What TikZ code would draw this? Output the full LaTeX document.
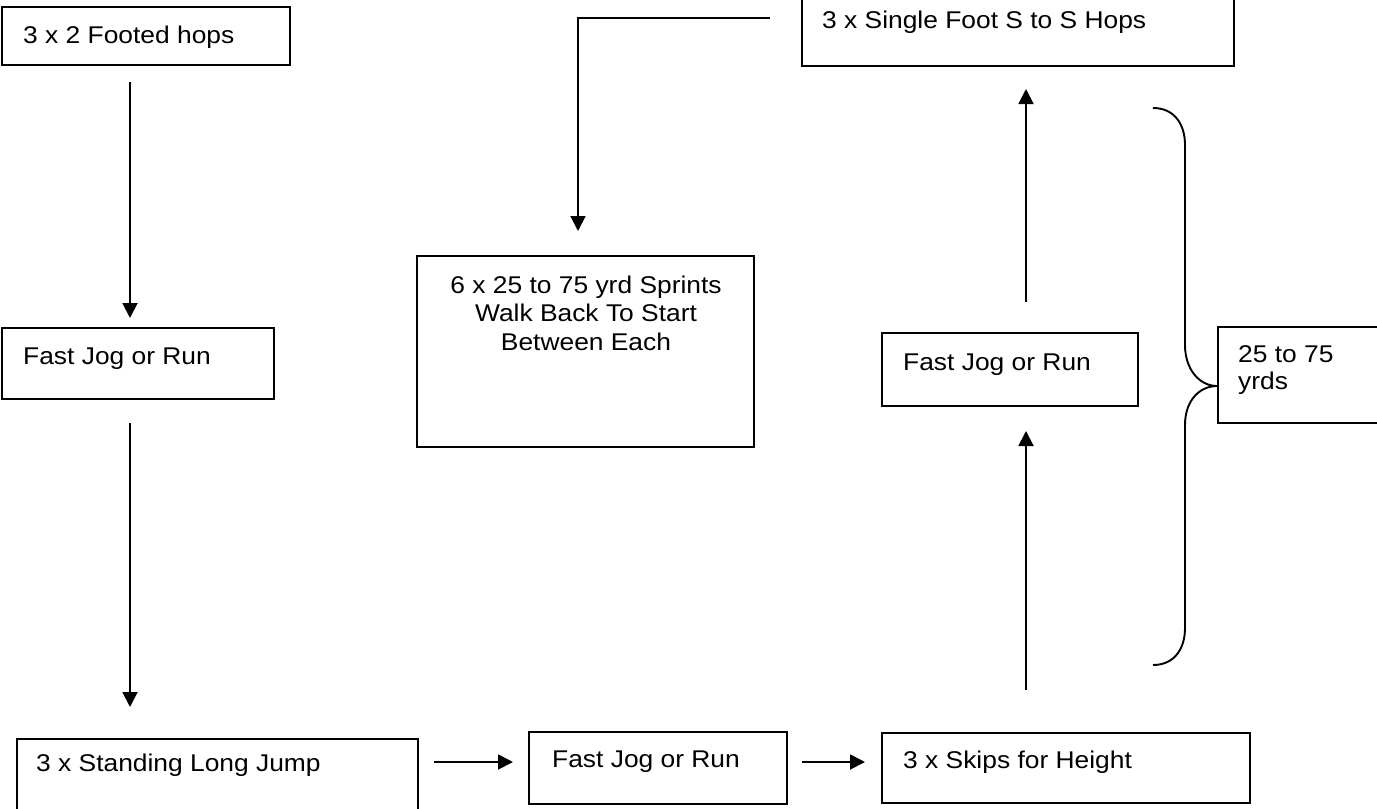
\documentclass[tikz,border=0pt]{standalone}
\usepackage{fontspec}
\setmainfont[FakeStretch=1.09]{Liberation Sans}
\usetikzlibrary{arrows.meta}
\begin{document}
\begin{tikzpicture}[x=1pt,y=-1pt,
  box/.style 2 args={draw, line width=1.9pt, rectangle, inner sep=0pt, outer sep=0pt,
    anchor=north west, minimum width=#1, minimum height=#2},
  lbl/.style={anchor=base west, inner sep=0pt, font=\fontsize{24.2}{28.5}\selectfont},
  mlbl/.style={anchor=north, inner sep=0pt, align=center, font=\fontsize{24.2}{28.5}\selectfont},
  arr/.style={line width=1.9pt, -{Triangle[length=15pt,width=15pt]}},
  brace/.style={line width=1.9pt},
]
\useasboundingbox (0,0) rectangle (1377,809);
\clip (0,0) rectangle (1377,809);

% boxes
\node[box={288pt}{58pt}] (b1) at (2,7) {};
\node[lbl] (t1) at (23,43) {3 x 2 Footed hops};

\node[box={432pt}{76pt}] (b2) at (802,-10) {};
\node[lbl] (t2) at (822,28) {3 x Single Foot S to S Hops};

\node[box={272pt}{71pt}] (b3) at (2,328) {};
\node[lbl] (t3) at (23,364) {Fast Jog or Run};

\node[box={337pt}{191pt}] (b4) at (417,256) {};
\node[mlbl] (t4) at (586,275.5) {6 x 25 to 75 yrd Sprints\\Walk Back To Start\\Between Each};

\node[box={256pt}{73pt}] (b5) at (882,333) {};
\node[lbl] (t5) at (903,370) {Fast Jog or Run};

\node[box={170pt}{96pt}] (b6) at (1218,327) {};
\node[lbl] (t6a) at (1238,362) {25 to 75};
\node[lbl] (t6b) at (1238,389) {yrds};

\node[box={401pt}{76pt}] (b7) at (17,739) {};
\node[lbl] (t7) at (36,771) {3 x Standing Long Jump};

\node[box={258pt}{72pt}] (b8) at (529,732) {};
\node[lbl] (t8) at (552,767) {Fast Jog or Run};

\node[box={368pt}{70pt}] (b9) at (882,733) {};
\node[lbl] (t9) at (903,768) {3 x Skips for Height};

% arrow end points
\coordinate (a1s) at (130,82);   \coordinate (a1e) at (130,318);
\coordinate (a2s) at (130,423);  \coordinate (a2e) at (130,707);
\coordinate (a3s) at (434,762);  \coordinate (a3e) at (513,762);
\coordinate (a4s) at (802,762);  \coordinate (a4e) at (865,762);
\coordinate (a5s) at (1026,690); \coordinate (a5e) at (1026,431);
\coordinate (a6s) at (1026,302); \coordinate (a6e) at (1026,89);
\coordinate (a7s) at (770,18);   \coordinate (a7c) at (578,18);
\coordinate (a7e) at (578,231);

\draw[arr] (a1s) -- (a1e);
\draw[arr] (a2s) -- (a2e);
\draw[arr] (a3s) -- (a3e);
\draw[arr] (a4s) -- (a4e);
\draw[arr] (a5s) -- (a5e);
\draw[arr] (a6s) -- (a6e);
\draw[arr] (a7s) -- (a7c) -- (a7e);

% brace
\coordinate (brt) at (1153,108);
\coordinate (brm) at (1217,386);
\coordinate (brb) at (1153,665);
\draw[brace] (brt) .. controls (1175,108) and (1185,125) .. (1185,145)
  -- (1185,345) .. controls (1185,370) and (1200,386) .. (brm)
  .. controls (1200,386) and (1185,400) .. (1185,425)
  -- (1185,628) .. controls (1185,648) and (1175,665) .. (brb);
\end{tikzpicture}
\end{document}
